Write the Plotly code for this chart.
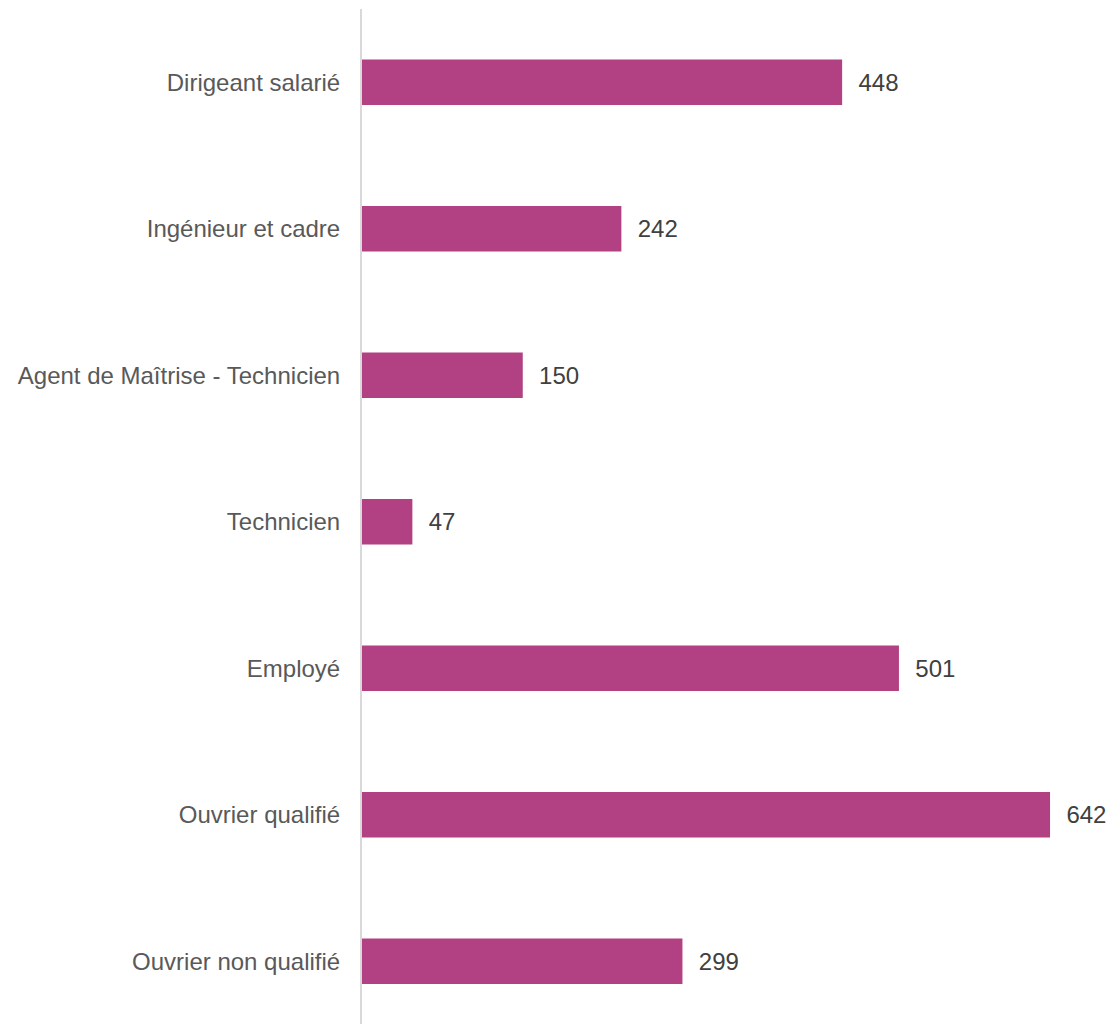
import plotly.graph_objects as go

categories = [
    "Dirigeant salarié",
    "Ingénieur et cadre",
    "Agent de Maîtrise - Technicien",
    "Technicien",
    "Employé",
    "Ouvrier qualifié",
    "Ouvrier non qualifié",
]
values = [448, 242, 150, 47, 501, 642, 299]

fig = go.Figure(
    go.Bar(
        x=values,
        y=categories,
        orientation="h",
        width=0.31,
        marker=dict(color="#B14183", line=dict(width=0)),
        text=values,
        texttemplate="  %{x}",
        textposition="outside",
        textfont=dict(family="Liberation Sans, Arial, sans-serif", size=24, color="#404040"),
        cliponaxis=False,
    )
)

fig.update_layout(
    width=1109,
    height=1024,
    margin=dict(l=362, r=0, t=9, b=0),
    paper_bgcolor="white",
    plot_bgcolor="white",
    showlegend=False,
    font=dict(family="Liberation Sans, Arial, sans-serif", size=24, color="#595959"),
    xaxis=dict(
        range=[0, 697],
        showgrid=False,
        zeroline=False,
        showticklabels=False,
        showline=False,
        ticks="",
    ),
    yaxis=dict(
        categoryorder="array",
        categoryarray=categories,
        range=[6.428, -0.5],
        showgrid=False,
        zeroline=False,
        showline=True,
        linecolor="#D9D9D9",
        linewidth=2,
        ticks="",
        ticklabelstandoff=15,
        tickfont=dict(family="Liberation Sans, Arial, sans-serif", size=24, color="#595959"),
    ),
)

fig.write_html("out.html")
